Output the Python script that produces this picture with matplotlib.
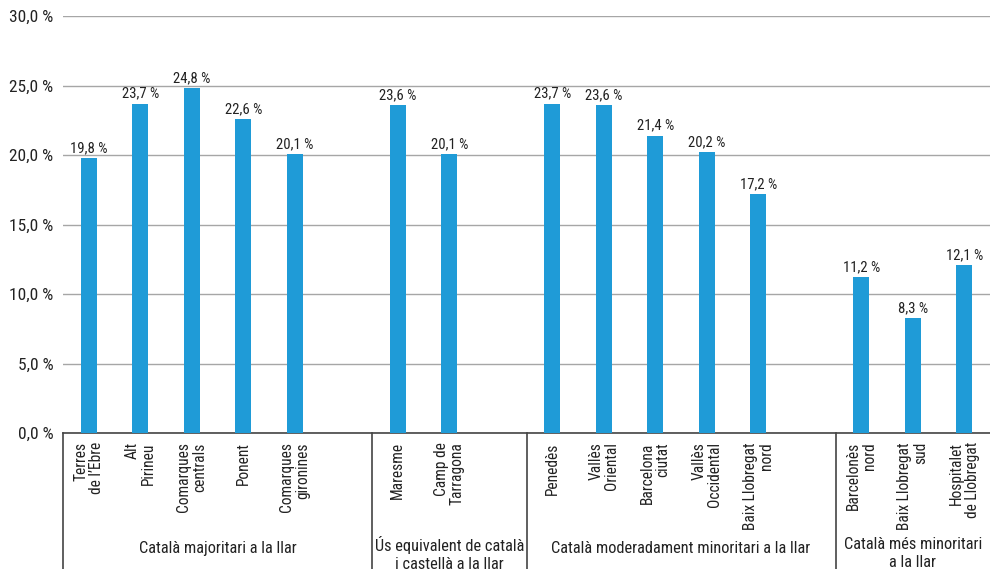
import matplotlib
matplotlib.use("Agg")
import matplotlib.pyplot as plt
import matplotlib.transforms as mtransforms
from matplotlib import font_manager

# Pick a narrow sans face if one is installed
names = {f.name for f in font_manager.fontManager.ttflist}
font_family = "DejaVu Sans"
for cand in ["Roboto Condensed", "Liberation Sans Narrow", "Archivo Narrow", "Arial Narrow"]:
    if cand in names:
        font_family = cand
        break
plt.rcParams['font.family'] = [font_family, 'DejaVu Sans']

# Regions, grouped by the language used at home
groups = [
    "Català majoritari a la llar",
    "Ús equivalent de català\ni castellà a la llar",
    "Català moderadament minoritari a la llar",
    "Català més minoritari\na la llar",
]
group_regions = [
    ["Terres\nde l’Ebre", "Alt\nPirineu", "Comarques\ncentrals", "Ponent", "Comarques\ngironines"],
    ["Maresme", "Camp de\nTarragona"],
    ["Penedès", "Vallès\nOriental", "Barcelona\nciutat", "Vallès\nOccidental", "Baix Llobregat\nnord"],
    ["Barcelonès\nnord", "Baix Llobregat\nsud", "Hospitalet\nde Llobregat"],
]
group_values = [
    [19.8, 23.7, 24.8, 22.6, 20.1],
    [23.6, 20.1],
    [23.7, 23.6, 21.4, 20.2, 17.2],
    [11.2, 8.3, 12.1],
]
y_ticks = [0, 5, 10, 15, 20, 25, 30]

bar_color = "#1f9bd7"
text_color = "#222222"
grid_color = "#a6a6a6"
line_color = "#444444"

fig = plt.figure(figsize=(9.9, 5.69), dpi=100)
ax = fig.add_axes([63 / 990, 136 / 569, 1 - 63 / 990, 417 / 569])

# Slot positions with one empty slot between groups
positions, labels, values, group_spans = [], [], [], []
pos = 0
for regs, vals in zip(group_regions, group_values):
    start = pos
    for r, v in zip(regs, vals):
        positions.append(pos)
        labels.append(r)
        values.append(v)
        pos += 1
    group_spans.append((start, pos - 1))
    pos += 1

ax.bar(positions, values, width=0.31, color=bar_color, zorder=3)

for x, v in zip(positions, values):
    ax.text(x, v + 0.2, f"{v:.1f} %".replace(".", ","), ha="center", va="bottom",
            fontsize=10.6, color=text_color, zorder=4)

ax.set_xlim(-0.5, positions[-1] + 0.5)
ax.set_ylim(0, 30)
ax.set_yticks(y_ticks)
ax.set_yticklabels([f"{t:.1f} %".replace(".", ",") for t in y_ticks],
                   fontsize=12.5, color=text_color)
ax.tick_params(axis="y", length=0, pad=7)
ax.tick_params(axis="x", length=0)
ax.set_xticks([])
ax.yaxis.grid(True, color=grid_color, linewidth=1.0, zorder=0)
for side in ["top", "right", "left"]:
    ax.spines[side].set_visible(False)
ax.spines["bottom"].set_color(line_color)
ax.spines["bottom"].set_linewidth(1.2)

trans = mtransforms.blended_transform_factory(ax.transData, ax.transAxes)

# Region names, rotated, below the axis
for x, lab in zip(positions, labels):
    ax.text(x, -0.022, lab, rotation=90, ha="center", va="top", multialignment="right",
            fontsize=11.2, color=text_color, transform=trans, linespacing=1.05)

# Group separators and group names (centred between separators)
bottom = -136 / 417
sep_x = [-0.5] + [span[1] + 1.5 for span in group_spans[:-1]] + [positions[-1] + 0.5]
for sx in sep_x[:-1]:
    ax.plot([sx, sx], [0, bottom], color=line_color, linewidth=1.2,
            transform=trans, clip_on=False)

for i, g in enumerate(groups):
    cy = -0.278 if "\n" not in g else -0.289
    ax.text((sep_x[i] + sep_x[i + 1]) / 2, cy, g, ha="center", va="center", fontsize=11.8,
            color=text_color, transform=trans, linespacing=1.25)

fig.savefig("out.png", dpi=100)
